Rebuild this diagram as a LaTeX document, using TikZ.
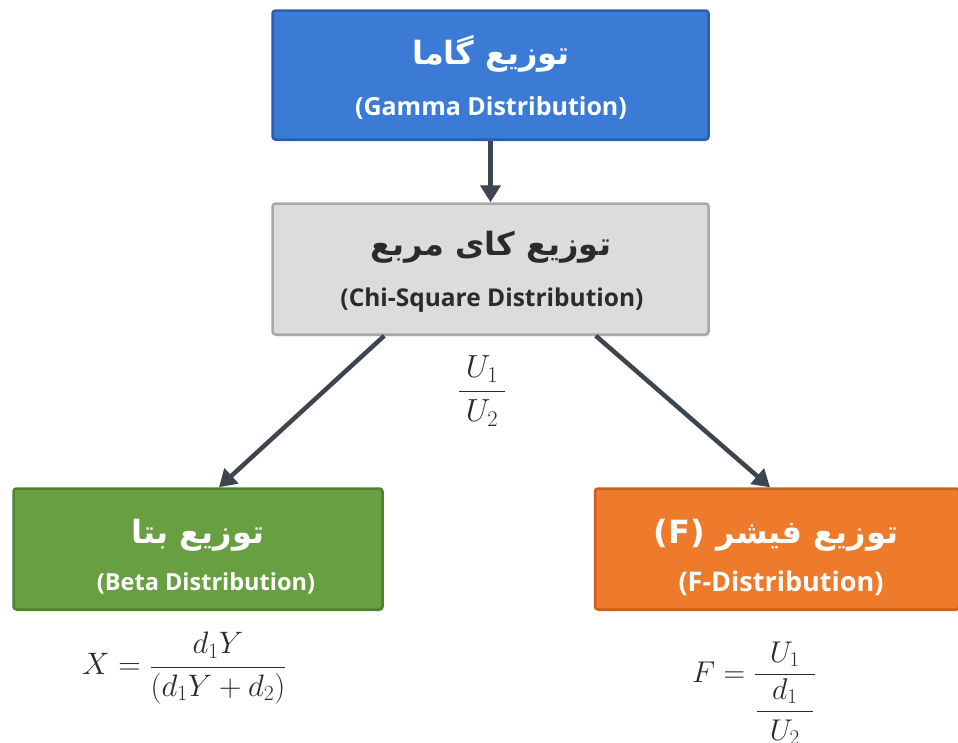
\RequirePackage{fix-cm}
\documentclass[tikz,border=0pt]{standalone}
\usepackage{amsmath}
\usepackage{fontspec}
\setmainfont{Open Sans}
\newfontfamily\arabicfont[Script=Arabic]{DejaVu Sans}
\TeXXeTstate=1
\usetikzlibrary{arrows.meta,shadows}
\definecolor{gammafill}{HTML}{3B7BD6}
\definecolor{gammaline}{HTML}{2A5EAE}
\definecolor{chifill}{HTML}{DCDCDC}
\definecolor{chiline}{HTML}{A8A8A8}
\definecolor{betafill}{HTML}{68A041}
\definecolor{betaline}{HTML}{4B832E}
\definecolor{ffill}{HTML}{EE7A2B}
\definecolor{fline}{HTML}{C7601E}
\definecolor{arrowcol}{HTML}{3D4550}
\definecolor{darktext}{HTML}{2B2B2B}
\begin{document}
\begin{tikzpicture}[x=1pt,y=-1pt,
  distbox/.style={draw, line width=2.5pt, rounded corners=3pt,
    inner sep=0pt, drop shadow={opacity=0.2, shadow xshift=1pt, shadow yshift=-2pt}},
  artitle/.style={inner sep=0pt, font=\arabicfont\bfseries\fontsize{32}{38}\selectfont},
  ensub/.style={inner sep=0pt, font=\bfseries\fontsize{#1}{28}\selectfont},
  conn/.style={draw=arrowcol, line width=4.5pt, -{Triangle[length=17pt,width=20pt]}},
  mathlbl/.style={inner sep=0pt, text=darktext, font=\fontsize{#1}{38}\selectfont}
]
\useasboundingbox (0,0) rectangle (958,742);
\fill[white] (0,0) rectangle (958,742);

\node[distbox, fill=gammafill, draw=gammaline,
  minimum width=436pt, minimum height=129pt] (gamma) at (490.5,75) {};
\node[artitle, text=white] (gammaT) at (491,54) {\beginR توزیع گاما\endR};
\node[ensub=25, text=white] (gammaS) at (491,108) {(Gamma Distribution)};

\node[distbox, fill=chifill, draw=chiline,
  minimum width=436pt, minimum height=131pt] (chi) at (490.5,269) {};
\node[artitle, text=darktext] (chiT) at (491,247) {\beginR توزیع کای مربع\endR};
\node[ensub=24.5, text=darktext] (chiS) at (492,300) {(Chi-Square Distribution)};

\node[distbox, fill=betafill, draw=betaline,
  minimum width=369pt, minimum height=121pt] (beta) at (198,549) {};
\node[artitle, text=white] (betaT) at (198,535) {\beginR توزیع بتا\endR};
\node[ensub=23.5, text=white] (betaS) at (206,583) {(Beta Distribution)};

\node[distbox, fill=ffill, draw=fline,
  minimum width=364pt, minimum height=121pt] (fisher) at (777,549) {};
\node[artitle, text=white] (fisherT) at (776,535) {(F) \beginR توزیع فیشر\endR};
\node[ensub=27, text=white] (fisherS) at (781,583) {(F-Distribution)};

\draw[conn] (gamma) -- (chi);
\draw[conn] ([xshift=113pt]chi.south west) -- ([xshift=21pt]beta.north);
\draw[conn] ([xshift=-114pt]chi.south east) -- ([xshift=-7pt]fisher.north);

\node[mathlbl=32] (ratio) at (482,391)
  {$\displaystyle\frac{\hspace{7pt}U_1\hspace{7pt}}{\hspace{7pt}U_2\hspace{7pt}}$};
\node[mathlbl=31, anchor=west] (betaf) at (82,668) {$X=\dfrac{d_1Y}{(d_1Y+d_2)}$};
\node[mathlbl=30, anchor=west] (ff) at (692,693)
  {$F=\dfrac{\hspace{15pt}U_1\hspace{15pt}}{\dfrac{\hspace{15pt}d_1\hspace{15pt}}{U_2}}$};
\end{tikzpicture}
\end{document}
